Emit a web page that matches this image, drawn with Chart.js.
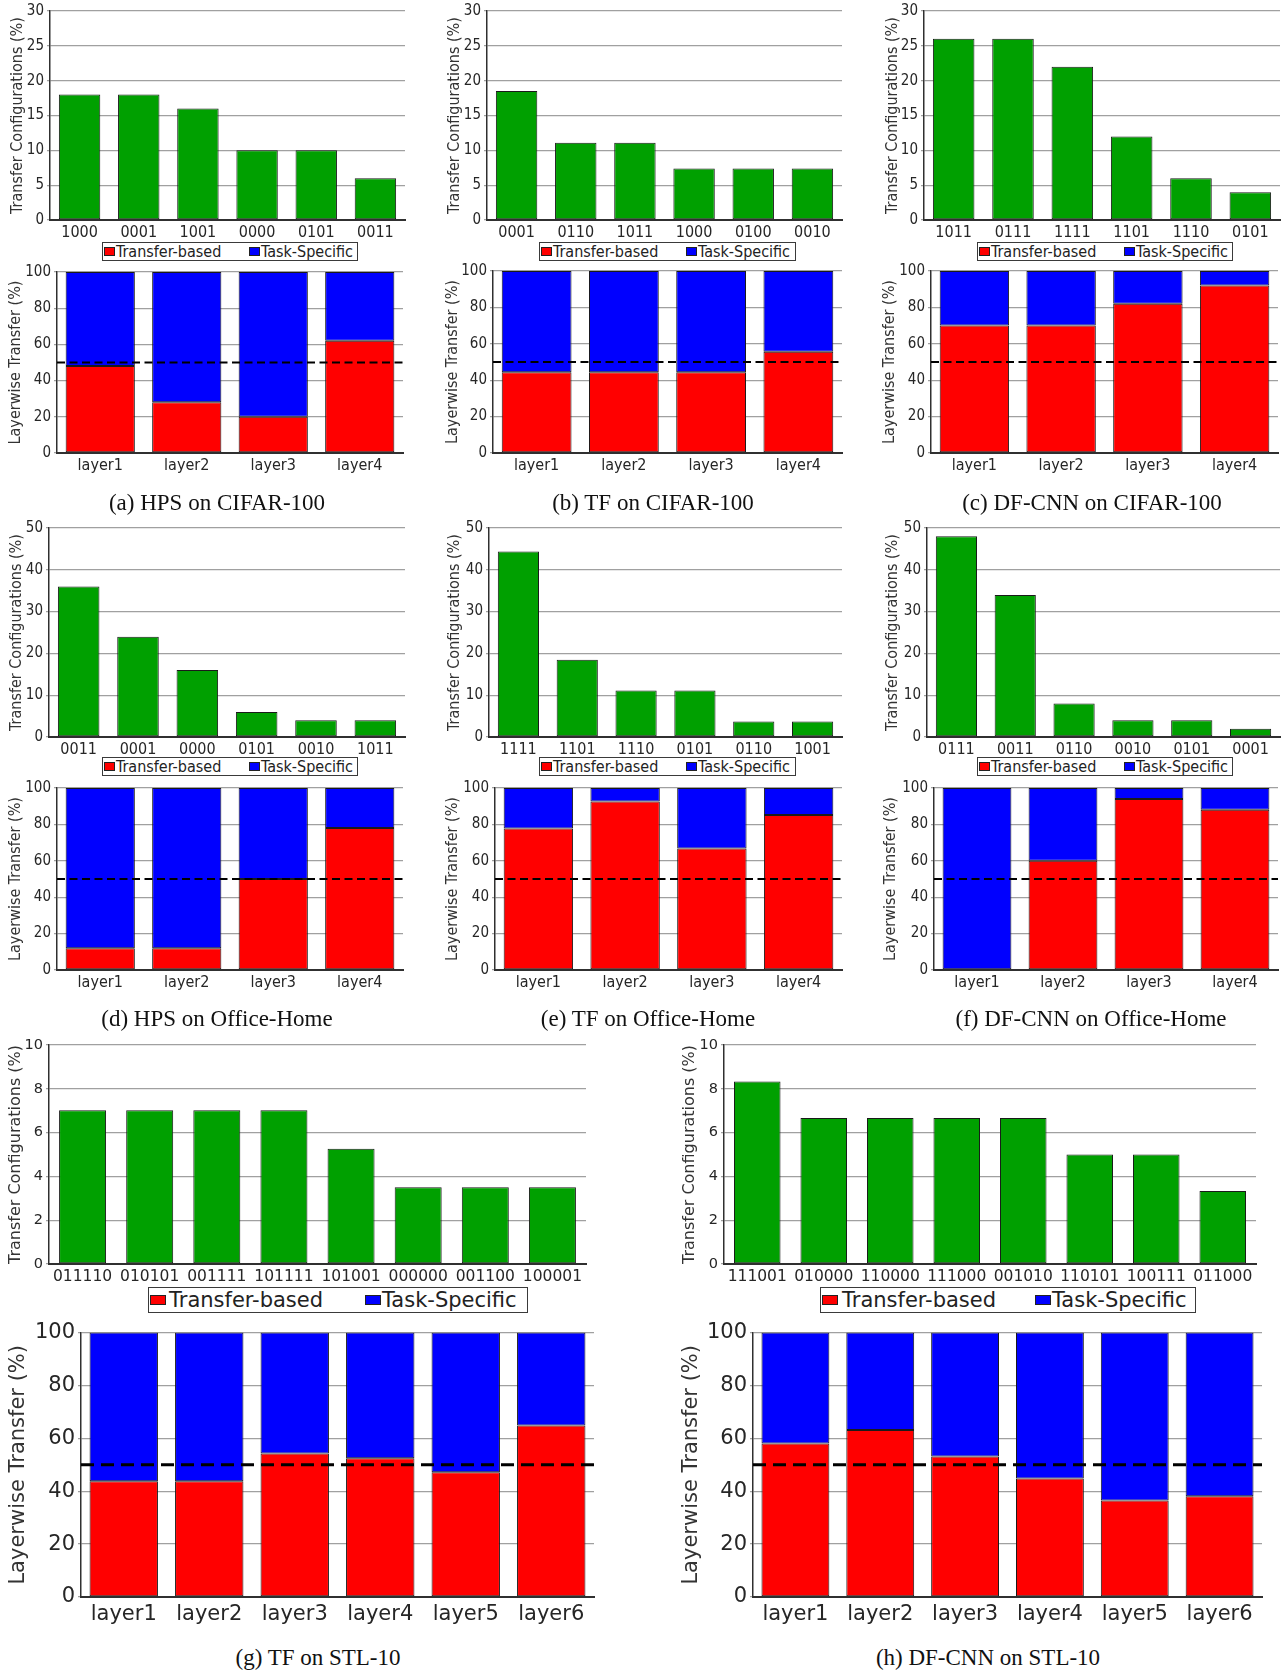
<!DOCTYPE html>
<html>
<head>
<meta charset="utf-8">
<script src="https://cdn.jsdelivr.net/npm/chart.js@4.4.1/dist/chart.umd.min.js"></script>
<style>
html, body { margin: 0; padding: 0; background: #fff; }
#fig { position: relative; width: 1288px; height: 1674px; overflow: hidden; background: #fff; }
#fig canvas { position: absolute; }
.cap { position: absolute; font-family: 'Liberation Serif', 'Times New Roman', serif; color: #111; white-space: nowrap; transform: translate(-50%, -50%); }
.leg { position: absolute; border: 1px solid #3a3a3a; background: #fff; box-sizing: border-box; color: #222; z-index: 2; }
.leg span { position: absolute; white-space: nowrap; top: 0; }
.leg .sw { border: 1px solid #222; box-sizing: border-box; }
</style>
</head>
<body>
<div id="fig"></div>
<script>
// ---- shared labels ----
const yTitleTop = 'Transfer Configurations (%)';
const yTitleBottom = 'Layerwise Transfer (%)';
const layers4 = ['layer1', 'layer2', 'layer3', 'layer4'];
const layers6 = ['layer1', 'layer2', 'layer3', 'layer4', 'layer5', 'layer6'];

// (a) HPS on CIFAR-100
const cfgA = ['1000', '0001', '1001', '0000', '0101', '0011'];
const cfgAVal = [18, 18, 16, 10, 10, 6];
const layATransfer = [48, 28, 20, 62];
const layASpecific = [52, 72, 80, 38];

// (b) TF on CIFAR-100
const cfgB = ['0001', '0110', '1011', '1000', '0100', '0010'];
const cfgBVal = [18.5, 11.1, 11.1, 7.4, 7.4, 7.4];
const layBTransfer = [44.4, 44.4, 44.4, 55.6];
const layBSpecific = [55.6, 55.6, 55.6, 44.4];

// (c) DF-CNN on CIFAR-100
const cfgC = ['1011', '0111', '1111', '1101', '1110', '0101'];
const cfgCVal = [26, 26, 22, 12, 6, 4];
const layCTransfer = [70, 70, 82, 92];
const layCSpecific = [30, 30, 18, 8];

// (d) HPS on Office-Home
const cfgD = ['0011', '0001', '0000', '0101', '0010', '1011'];
const cfgDVal = [36, 24, 16, 6, 4, 4];
const layDTransfer = [12, 12, 50, 78];
const layDSpecific = [88, 88, 50, 22];

// (e) TF on Office-Home
const cfgE = ['1111', '1101', '1110', '0101', '0110', '1001'];
const cfgEVal = [44.4, 18.5, 11.1, 11.1, 3.7, 3.7];
const layETransfer = [77.8, 92.6, 66.7, 85.2];
const layESpecific = [22.2, 7.4, 33.3, 14.8];

// (f) DF-CNN on Office-Home
const cfgF = ['0111', '0011', '0110', '0010', '0101', '0001'];
const cfgFVal = [48, 34, 8, 4, 4, 2];
const layFTransfer = [0, 60, 94, 88];
const layFSpecific = [100, 40, 6, 12];

// (g) TF on STL-10
const cfgG = ['011110', '010101', '001111', '101111', '101001', '000000', '001100', '100001'];
const cfgGVal = [7.02, 7.02, 7.02, 7.02, 5.26, 3.51, 3.51, 3.51];
const layGTransfer = [43.8, 43.8, 54.3, 52.5, 47.2, 64.9];
const layGSpecific = [56.2, 56.2, 45.7, 47.5, 52.8, 35.1];

// (h) DF-CNN on STL-10
const cfgH = ['111001', '010000', '110000', '111000', '001010', '110101', '100111', '011000'];
const cfgHVal = [8.33, 6.67, 6.67, 6.67, 6.67, 5, 5, 3.33];
const layHTransfer = [58.1, 63.2, 53.1, 44.8, 36.5, 38.1];
const layHSpecific = [41.9, 36.8, 46.9, 55.2, 63.5, 61.9];

// ---- drawing helpers ----
const CONDENSED = "'DejaVu Sans Condensed', 'DejaVu Sans', sans-serif";
const REGULAR = "'DejaVu Sans', sans-serif";
const fig = document.getElementById('fig');
const EDGE = '#1a1a1a';

// dashed reference line at 50 %, drawn over the bars
const halfLine = {
  id: 'halfLine',
  afterDatasetsDraw(chart, args, opts) {
    if (!opts || !opts.show) return;
    const { ctx, chartArea: a, scales: { y } } = chart;
    const py = y.getPixelForValue(50);
    ctx.save();
    ctx.strokeStyle = '#000';
    ctx.lineWidth = opts.width;
    ctx.setLineDash(opts.dash);
    ctx.beginPath();
    ctx.moveTo(a.left, py);
    ctx.lineTo(a.right, py);
    ctx.stroke();
    ctx.restore();
  }
};

function greenBars(vals) {
  return [{
    label: 'share', data: vals, backgroundColor: '#00a000', borderColor: EDGE,
    borderWidth: 1, borderSkipped: false, barPercentage: 0.7, categoryPercentage: 1
  }];
}

function splitBars(tr, ts) {
  return [
    { label: 'Transfer-based', data: tr, backgroundColor: '#ff0000', borderColor: EDGE,
      borderWidth: 1, borderSkipped: false, barPercentage: 0.8, categoryPercentage: 1 },
    { label: 'Task-Specific', data: ts, backgroundColor: '#0000ff', borderColor: EDGE,
      borderWidth: 1, borderSkipped: false, barPercentage: 0.8, categoryPercentage: 1 }
  ];
}

function panel(p) {
  const [l, t, r, b] = p.plot;
  const titleLH = p.fs.title * 1.2;
  const x0 = Math.round(p.titleX - titleLH / 2 - 2);
  const padTop = 14, padRight = 8;
  const y0 = t - padTop;
  const W = r + padRight - x0;
  const H = b + p.xH - y0;
  const cv = document.createElement('canvas');
  cv.width = W; cv.height = H;
  cv.style.left = x0 + 'px'; cv.style.top = y0 + 'px';
  cv.style.width = W + 'px'; cv.style.height = H + 'px';
  fig.appendChild(cv);
  const fam = p.fs.family;
  new Chart(cv, {
    type: 'bar',
    data: { labels: p.labels, datasets: p.datasets },
    options: {
      responsive: false, animation: false, devicePixelRatio: 1,
      layout: { padding: { top: padTop, right: padRight, left: 0, bottom: 0 } },
      plugins: { legend: { display: false }, tooltip: { enabled: false },
                 halfLine: p.dash || { show: false } },
      scales: {
        x: {
          stacked: true,
          grid: { display: false, drawTicks: false },
          border: { display: true, color: '#303030', width: 2 },
          ticks: { color: '#262626', font: { family: fam, size: p.fs.xt }, padding: p.xPad,
                   maxRotation: 0, autoSkip: false },
          afterFit: s => { s.height = p.xH; }
        },
        y: {
          stacked: true, min: 0, max: p.max,
          ticks: { stepSize: p.step, color: '#262626', font: { family: fam, size: p.fs.yt }, padding: 3 },
          grid: { color: '#a0a0a0', lineWidth: 1.3, tickLength: 3 },
          border: { display: true, color: '#303030', width: 1.5 },
          title: { display: true, text: p.yTitle, color: '#333',
                   font: { family: fam, size: p.fs.title }, padding: { top: 2, bottom: 0 } },
          afterFit: s => { s.width = l - x0; }
        }
      }
    },
    plugins: [halfLine]
  });
}

function legendBox(x, y, w, h, fs, family, sw, offs) {
  const box = document.createElement('div');
  box.className = 'leg';
  Object.assign(box.style, { left: x + 'px', top: y + 'px', width: w + 'px', height: h + 'px',
                             fontSize: fs + 'px', fontFamily: family });
  const inner = h - 2;
  const items = [['#ff0000', 'Transfer-based', offs[0], offs[1]], ['#0000ff', 'Task-Specific', offs[2], offs[3]]];
  items.forEach(([col, txt, sx, tx]) => {
    const s = document.createElement('span');
    s.className = 'sw';
    Object.assign(s.style, { left: sx + 'px', top: ((inner - sw[1]) / 2) + 'px', width: sw[0] + 'px',
                             height: sw[1] + 'px', background: col });
    box.appendChild(s);
    const tEl = document.createElement('span');
    tEl.textContent = txt;
    Object.assign(tEl.style, { left: tx + 'px', lineHeight: inner + 'px' });
    box.appendChild(tEl);
  });
  fig.appendChild(box);
}

function caption(text, cx, cy, fs) {
  const d = document.createElement('div');
  d.className = 'cap';
  d.textContent = text;
  d.style.left = cx + 'px'; d.style.top = cy + 'px'; d.style.fontSize = fs + 'px';
  fig.appendChild(d);
}

// ---- panel geometry ----
const fsSmall = { family: CONDENSED, yt: 15, xt: 16, title: 16 };
const fsWideTop = { family: REGULAR, yt: 14.5, xt: 15.5, title: 16 };
const fsWideBottom = { family: REGULAR, yt: 21, xt: 21, title: 21 };
const dashSmall = { show: true, width: 2, dash: [8, 4.5] };
const dashWide = { show: true, width: 3, dash: [13, 7] };

const topCharts = [
  { labels: cfgA, vals: cfgAVal, plot: [50, 11, 405, 220], titleX: 18, max: 30, step: 5 },
  { labels: cfgB, vals: cfgBVal, plot: [487, 11, 842, 220], titleX: 455, max: 30, step: 5 },
  { labels: cfgC, vals: cfgCVal, plot: [924, 11, 1280, 220], titleX: 893, max: 30, step: 5 },
  { labels: cfgD, vals: cfgDVal, plot: [49, 528, 405, 737], titleX: 17, max: 50, step: 10 },
  { labels: cfgE, vals: cfgEVal, plot: [489, 528, 842, 737], titleX: 455, max: 50, step: 10 },
  { labels: cfgF, vals: cfgFVal, plot: [927, 528, 1280, 737], titleX: 893, max: 50, step: 10 }
];
topCharts.forEach(c => panel({
  labels: c.labels, datasets: greenBars(c.vals), plot: c.plot, titleX: c.titleX,
  yTitle: yTitleTop, max: c.max, step: c.step, fs: fsSmall, xH: 32, xPad: 3
}));

const layerCharts = [
  { tr: layATransfer, ts: layASpecific, plot: [57, 272, 403, 453], titleX: 16 },
  { tr: layBTransfer, ts: layBSpecific, plot: [493, 271, 842, 453], titleX: 453 },
  { tr: layCTransfer, ts: layCSpecific, plot: [931, 271, 1278, 453], titleX: 890 },
  { tr: layDTransfer, ts: layDSpecific, plot: [57, 788, 403, 970], titleX: 16 },
  { tr: layETransfer, ts: layESpecific, plot: [495, 788, 842, 970], titleX: 453 },
  { tr: layFTransfer, ts: layFSpecific, plot: [934, 788, 1278, 970], titleX: 891 }
];
layerCharts.forEach(c => panel({
  labels: layers4, datasets: splitBars(c.tr, c.ts), plot: c.plot, titleX: c.titleX,
  yTitle: yTitleBottom, max: 100, step: 20, fs: fsSmall, xH: 30, xPad: 3, dash: dashSmall
}));

panel({ labels: cfgG, datasets: greenBars(cfgGVal), plot: [49, 1045, 586, 1264], titleX: 16,
        yTitle: yTitleTop, max: 10, step: 2, fs: fsWideTop, xH: 30, xPad: 4 });
panel({ labels: cfgH, datasets: greenBars(cfgHVal), plot: [724, 1045, 1256, 1264], titleX: 690,
        yTitle: yTitleTop, max: 10, step: 2, fs: fsWideTop, xH: 30, xPad: 4 });
panel({ labels: layers6, datasets: splitBars(layGTransfer, layGSpecific), plot: [81, 1331, 594, 1597], titleX: 19,
        yTitle: yTitleBottom, max: 100, step: 20, fs: fsWideBottom, xH: 36, xPad: 5, dash: dashWide });
panel({ labels: layers6, datasets: splitBars(layHTransfer, layHSpecific), plot: [753, 1331, 1262, 1597], titleX: 692,
        yTitle: yTitleBottom, max: 100, step: 20, fs: fsWideBottom, xH: 36, xPad: 5, dash: dashWide });

// ---- legends ----
const smallOffs = [1, 13, 146, 158];
legendBox(102, 242, 256, 19, 16, CONDENSED, [11, 9], smallOffs);
legendBox(539, 242, 257, 19, 16, CONDENSED, [11, 9], smallOffs);
legendBox(977, 242, 256, 19, 16, CONDENSED, [11, 9], smallOffs);
legendBox(102, 757, 256, 19, 16, CONDENSED, [11, 9], smallOffs);
legendBox(539, 757, 257, 19, 16, CONDENSED, [11, 9], smallOffs);
legendBox(977, 757, 256, 19, 16, CONDENSED, [11, 9], smallOffs);
legendBox(148, 1287, 380, 26, 21, REGULAR, [16, 10], [1, 20, 216, 233]);
legendBox(820, 1287, 376, 26, 21, REGULAR, [16, 10], [1, 21, 214, 231]);

// ---- captions ----
caption('(a) HPS on CIFAR-100', 217, 503, 23);
caption('(b) TF on CIFAR-100', 653, 503, 23);
caption('(c) DF-CNN on CIFAR-100', 1092, 503, 23);
caption('(d) HPS on Office-Home', 217, 1019, 23);
caption('(e) TF on Office-Home', 648, 1019, 23);
caption('(f) DF-CNN on Office-Home', 1091, 1019, 23);
caption('(g) TF on STL-10', 318, 1658, 23);
caption('(h) DF-CNN on STL-10', 988, 1658, 23);
</script>
</body>
</html>
